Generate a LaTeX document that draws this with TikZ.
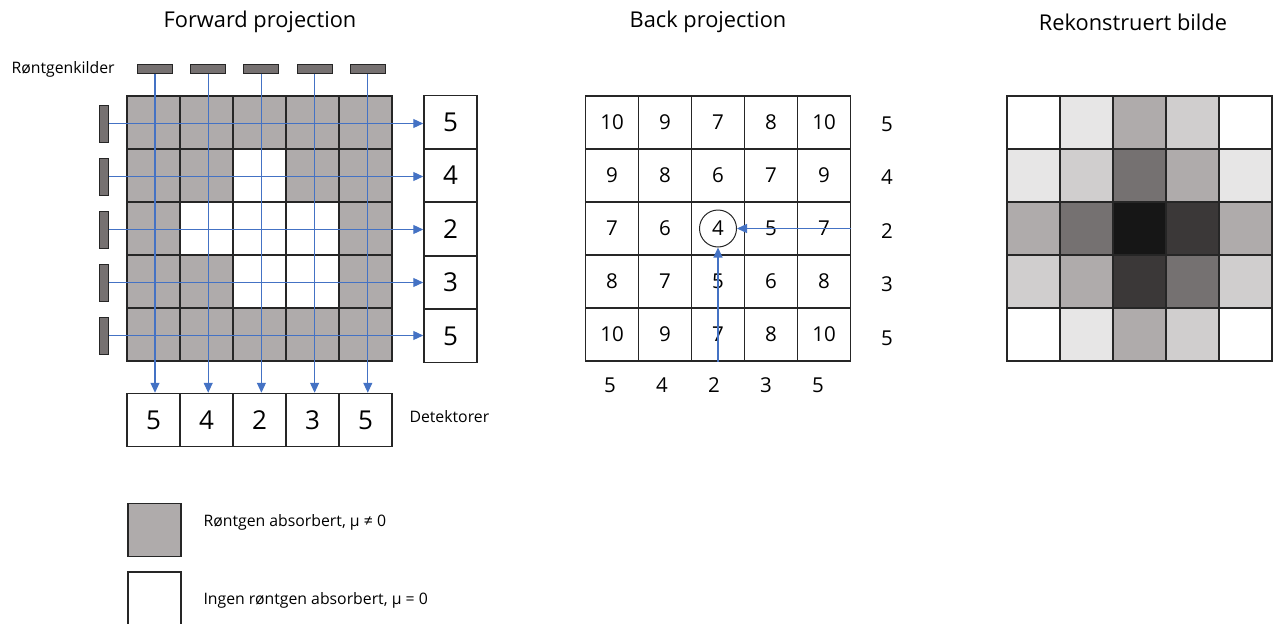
\documentclass[tikz,border=0pt]{standalone}
\usepackage{fontspec}
\setmainfont{Open Sans}
\usetikzlibrary{arrows.meta,positioning,calc}
\definecolor{gry}{HTML}{AFABAB}
\definecolor{srcgry}{HTML}{767171}
\definecolor{ray}{HTML}{4472C4}
\definecolor{v10}{HTML}{FFFFFF}
\definecolor{v9}{HTML}{E7E6E6}
\definecolor{v8}{HTML}{D0CECE}
\definecolor{v7}{HTML}{AFABAB}
\definecolor{v6}{HTML}{757171}
\definecolor{v5}{HTML}{3B3838}
\definecolor{v4}{HTML}{161616}
\tikzset{
 cell/.style={draw=black!85,line width=1.5pt,minimum size=53pt,inner sep=0pt},
 detbox/.style={cell,font=\fontsize{26}{28}\selectfont},
 numcell/.style={cell,font=\fontsize{20.5}{22}\selectfont},
 src/.style={draw=black!85,fill=srcgry,line width=1pt,inner sep=0pt},
 rayarr/.style={ray,line width=1.2pt,-{Triangle[length=10pt,width=9pt]}},
 title/.style={font=\fontsize{21.8}{24}\selectfont},
 lbl/.style={font=\fontsize{15.8}{18}\selectfont,anchor=west},
 num/.style={font=\fontsize{20.5}{22}\selectfont}
}

\begin{document}
\begin{tikzpicture}[x=1pt,y=-1pt]
 \useasboundingbox (0,0) rectangle (1278,624);
 \node[title] (tfwd) at (260,22) {Forward projection};
 \node[title] (tback) at (708,22) {Back projection};
 \node[title] (trec) at (1133,22) {Rekonstruert bilde};
 % forward projection
 \foreach \row [count=\r] in {{gry,gry,gry,gry,gry},{gry,gry,white,gry,gry},{gry,white,white,white,gry},{gry,gry,white,white,gry},{gry,gry,gry,gry,gry}}
  \foreach \f [count=\c] in \row
   \node[cell,fill=\f] (f\r\c) at ({153.5+53*(\c-1)},{122.5+53*(\r-1)}) {};
 \node[lbl] (kilder) at (8,69) {Røntgenkilder};
 \foreach \v [count=\i] in {5,4,2,3,5} {
  \node[src,minimum width=35pt,minimum height=9pt] (src\i) at ({155+53.2*(\i-1)},68.5) {};
  \node[src,minimum width=9pt,minimum height=37pt] (lsrc\i) at (104,{123.5+53*(\i-1)}) {};
  \node[detbox] (det\i) at ({153.5+53*(\i-1)},420) {\v};
  \node[detbox] (rdet\i) at (450.5,{122+53.5*(\i-1)}) {\v};
 }
 \foreach \i in {1,...,5} {
  \draw[rayarr] (src\i.south) -- (src\i.south |- det\i.north);
  \draw[rayarr] (lsrc\i.east) -- (lsrc\i.east -| rdet\i.west);
 }
 \node[lbl] (detlbl) at (406,417) {Detektorer};
 % back projection and reconstruction
 \foreach \row [count=\r] in {{10,9,7,8,10},{9,8,6,7,9},{7,6,4,5,7},{8,7,5,6,8},{10,9,7,8,10}}
  \foreach \v [count=\c] in \row {
   \node[numcell] (b\r\c) at ({612+53*(\c-1)},{122.5+53*(\r-1)}) {\v};
   \node[cell,fill=v\v] (r\r\c) at ({1033.5+53*(\c-1)},{122.5+53*(\r-1)}) {};
  }
 \foreach \v [count=\i] in {5,4,2,3,5} {
  \node[num] (bs\i) at (887,{124+53.5*(\i-1)}) {\v};
  \node[num] (bb\i) at ({610+52*(\i-1)},385) {\v};
 }
 \node[circle,draw=black!85,line width=1pt,minimum size=37pt] (ctr) at (b33) {};
 \draw[rayarr] (b35.east) -- (ctr.east);
 \draw[rayarr] (b53.south) -- (ctr.south);
 % legend
 \node[cell,fill=gry] (leggry) at (154.5,530) {};
 \node[cell,fill=white] (legwht) at (154.5,598.5) {};
 \node[lbl] (legtxt1) at (200,522) {Røntgen absorbert, µ ≠ 0};
 \node[lbl] (legtxt2) at (200,600) {Ingen røntgen absorbert, µ = 0};
\end{tikzpicture}
\end{document}
